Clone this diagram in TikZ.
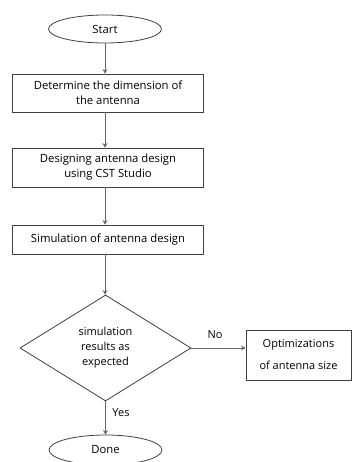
\documentclass[tikz,border=0pt]{standalone}
\usepackage{fontspec}
\setmainfont{Open Sans}
\usetikzlibrary{shapes.geometric,arrows.meta}

\tikzset{
  stepbox/.style={draw=black!75,line width=0.8pt,align=center,inner sep=0pt,
    minimum width=191pt,font=\fontsize{11.3}{15}\selectfont},
  terminal/.style={ellipse,draw=black!75,line width=0.8pt,inner sep=0pt,
    minimum width=113pt,font=\fontsize{11.3}{15}\selectfont},
  decision/.style={diamond,draw=black!75,line width=0.8pt,align=center,inner sep=0pt,
    minimum width=171pt,minimum height=106pt,font=\fontsize{11}{15}\selectfont},
  flow/.style={draw=black!60,line width=1pt,-{Stealth[length=4.5pt,width=5pt]}},
  tag/.style={inner sep=0pt,font=\fontsize{11}{15}\selectfont}
}

\begin{document}
\begin{tikzpicture}[x=1pt,y=-1pt]
\useasboundingbox (0,0) rectangle (351,462);
% flowchart
\node[terminal,minimum height=28pt] (start) at (105,29) {Start};
\node[stepbox,minimum height=38pt] (dim) at (108,93) {Determine the dimension of\\the antenna};
\node[stepbox,minimum height=39pt] (cst) at (108,167.5) {Designing antenna design\\using CST Studio};
\node[stepbox,minimum height=29pt] (sim) at (108,239.5) {Simulation of antenna design};
\node[decision] (check) at (105.5,348) {simulation\\results as\\expected};
\node[stepbox,minimum width=105pt,minimum height=50pt,font=\fontsize{11}{22}\selectfont] (opt) at (298.5,355) {Optimizations\\of antenna size};
\node[terminal,minimum height=30pt] (done) at (105.5,450) {Done};

\draw[flow] (start) -- (start |- dim.north);
\draw[flow] (dim.south -| start) -- (start |- cst.north);
\draw[flow] (cst.south -| start) -- (start |- sim.north);
\draw[flow] (sim.south -| start) -- (start |- check.north);
\draw[flow] (check.east) -- (opt.west |- check.east);
\draw[flow] (check.south) -- (done.north);

\node[tag] (no) at (215,335) {No};
\node[tag] (yes) at (121,413) {Yes};
\end{tikzpicture}
\end{document}
